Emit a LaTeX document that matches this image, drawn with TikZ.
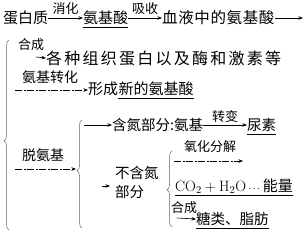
\documentclass[tikz,border=0pt]{standalone}
\usepackage{fontspec}
\newfontfamily\cjk{Noto Sans CJK SC}
\usetikzlibrary{decorations.pathreplacing,arrows.meta}
\begin{document}
\begin{tikzpicture}[x=1pt,y=-1pt,
  txt/.style={font=\cjk\fontsize{15}{15}\selectfont, inner sep=0pt, anchor=west},
  lab/.style={font=\cjk\fontsize{13}{13}\selectfont, inner sep=0pt},
  arr/.style={-{Stealth[length=4.5pt,width=3.5pt]}, line width=0.6pt},
  darr/.style={arr, dash pattern=on 7pt off 1.5pt on 2pt off 1.5pt},
  brc/.style={decorate, decoration={brace,amplitude=5pt,aspect=#1}, line width=0.5pt, black!60},
  ul/.style={line width=0.6pt}]
\useasboundingbox (0,0) rectangle (308,234);
% line 1
\node[txt] (prot) at (3,18) {蛋白质};
\node[txt] (aa) at (83,18) {氨基酸};
\node[txt,font=\cjk\fontsize{15.5}{15}\selectfont\addfontfeature{LetterSpace=4}] (blood) at (162,18) {血液中的氨基酸};
\coordinate (bend) at (303,18);
\draw[arr] (prot) -- node[lab,above=3pt] (xh) {消化} (aa);
\draw[arr] (aa) -- node[lab,above=3pt] (xs) {吸收} (blood);
\draw[arr] (blood) -- (bend);
\draw[ul] ([yshift=-2pt]aa.south west) -- ([yshift=-2pt]aa.south east);
% big brace
\draw[brc=0.47] (9,230) -- (9,40);
% branch 1
\node[lab] (hc1) at (31,45) {合成};
\node[txt,font=\cjk\fontsize{16}{16}\selectfont\addfontfeature{LetterSpace=14}] (tis) at (46,58) {各种组织蛋白以及酶和激素等};
\coordinate (hc1s) at (36,57);
\draw[arr] (hc1s) -- (tis.west);
% branch 2
\node[txt,font=\cjk\fontsize{14}{14}\selectfont] (trans) at (22,77) {氨基转化};
\coordinate (trs) at (15,90);
\node[txt] (form) at (88,89) {形成};
\node[txt] (newaa) at (form.east) {新的氨基酸};
\draw[darr] (trs) -- (form.west |- trs);
\draw[ul] ([yshift=-2pt]newaa.south west) -- ([yshift=-2pt]newaa.south east);
% branch 3
\node[txt,font=\cjk\fontsize{14}{14}\selectfont] (deam) at (22,155) {脱氨基};
\coordinate (dms) at (15,169);
\coordinate (tip2) at (76,169);
\draw[darr] (dms) -- (tip2);
\draw[brc=0.53] (82,228) -- (82,120);
% N part
\coordinate (np) at (84,125);
\node[txt,font=\cjk\fontsize{14.5}{14}\selectfont] (npart) at (112,125) {含氮部分:氨基};
\node[txt,font=\cjk\fontsize{14.5}{14}\selectfont] (urea) at (247,125) {尿素};
\draw[arr] (np) -- (npart.west);
\draw[arr] (npart) -- node[lab,above=2pt] (zb) {转变} (urea);
\draw[ul] ([yshift=-2pt]urea.south west) -- ([yshift=-2pt]urea.south east);
% non N part
\node[txt,font=\cjk\fontsize{14.5}{19}\selectfont,align=left] (nonn) at (115,182) {不含氮\\部分};
\coordinate (nns) at (102,186);
\coordinate (nne) at (110,186);
\draw[arr] (nns) -- (nne);
\draw[brc=0.49] (172,227) -- (172,151);
\node[lab] (ox) at (210,147) {氧化分解};
\coordinate (oxs) at (174,161);
\coordinate (oxe) at (243,161);
\draw[darr] (oxs) -- (oxe);
\node[txt] (co2) at (175,186) {$\mathrm{CO_2}+\mathrm{H_2O}$\,{\fontsize{10}{10}\selectfont$\cdots$}\,能量};
\draw[ul] ([yshift=-2pt]co2.south west) -- ([yshift=-2pt]co2.south east);
\node[lab] (hc2) at (184,208) {合成};
\coordinate (hc2s) at (177,218);
\node[txt,font=\cjk\fontsize{14.5}{14}\selectfont] (sug) at (196,219) {糖类、脂肪};
\draw[arr] (hc2s) -- (sug.west);
\draw[ul] ([yshift=-2pt]sug.south west) -- ([yshift=-2pt]sug.south east);
\end{tikzpicture}
\end{document}
